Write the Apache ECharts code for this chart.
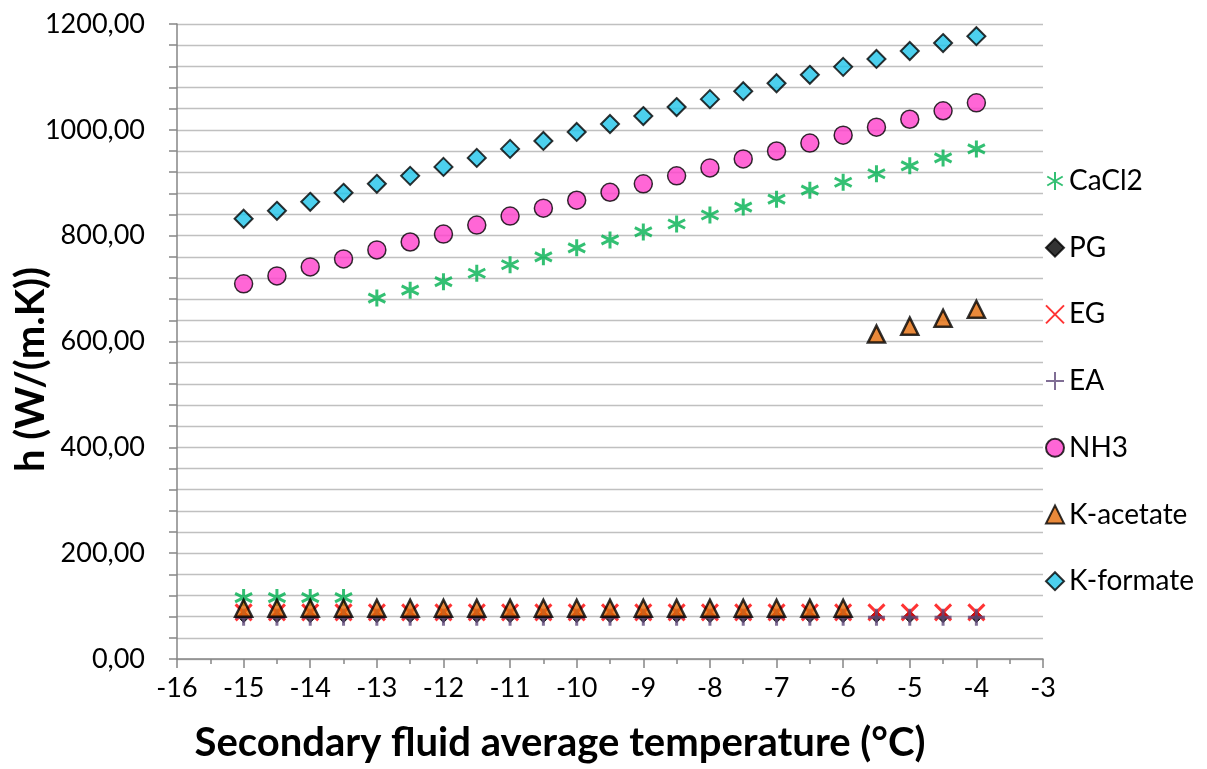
<!DOCTYPE html>
<html>
<head>
<meta charset="utf-8">
<script src="https://cdn.jsdelivr.net/npm/echarts@6/dist/echarts.min.js"></script>
<style>
  html, body { margin: 0; padding: 0; background: #fff; }
  #chart { width: 1207px; height: 769px; }
</style>
</head>
<body>
<div id="chart"></div>
<script>
// temperatures (°C)
const temps = [-15, -14.5, -14, -13.5, -13, -12.5, -12, -11.5, -11, -10.5, -10, -9.5,
               -9, -8.5, -8, -7.5, -7, -6.5, -6, -5.5, -5, -4.5, -4];

// h values, W/(m.K)
const cacl2 = [116, 116, 116, 116, 682, 697, 713, 729, 745, 760, 777, 792,
               807, 822, 839, 854, 869, 886, 901, 917, 932, 947, 964];
const pg = [80, 80, 80, 80, 80, 80, 80, 80, 80, 80, 80, 80,
            80, 80, 80, 80, 80, 80, 80, 80, 80, 80, 80];
const eg = [88, 88, 88, 88, 88, 88, 88, 88, 88, 88, 88, 88,
            88, 88, 88, 88, 88, 88, 88, 88, 88, 88, 88];
const ea = [79, 79, 79, 79, 79, 79, 79, 79, 79, 79, 79, 79,
            79, 79, 79, 79, 79, 79, 79, 79, 79, 79, 79];
const nh3 = [709, 724, 741, 756, 773, 788, 803, 820, 837, 852, 867, 882,
             898, 913, 928, 945, 960, 975, 990, 1005, 1020, 1036, 1051];
const kacetate = [96, 96, 96, 96, 96, 96, 96, 96, 96, 96, 96, 96,
                  96, 96, 96, 96, 96, 96, 96, 614, 629, 644, 661];
const kformate = [832, 847, 864, 881, 898, 913, 930, 947, 964, 979, 996, 1011,
                  1026, 1043, 1058, 1073, 1088, 1104, 1119, 1134, 1149, 1164, 1177];

const seriesNames = ['CaCl2', 'PG', 'EG', 'EA', 'NH3', 'K-acetate', 'K-formate'];

function pairs(vals) {
  return temps.map(function (t, i) { return [t, vals[i]]; });
}

const chart = echarts.init(document.getElementById('chart'));

const font = 'Lato, "Open Sans", sans-serif';

chart.setOption({
  animation: false,
  textStyle: { fontFamily: font },
  grid: { left: 177, right: 164, top: 24, bottom: 110, outerBoundsMode: 'none', containLabel: false },
  legend: {
    orient: 'vertical',
    left: 1040,
    top: 162,
    itemWidth: 18,
    itemHeight: 18,
    itemGap: 38.7,
    textStyle: { fontSize: 28, color: '#000', fontFamily: font },
    data: seriesNames
  },
  xAxis: {
    type: 'value',
    min: -16,
    max: -3,
    interval: 1,
    name: 'Secondary fluid average temperature (°C)',
    nameLocation: 'middle',
    nameGap: 64,
    nameMoveOverlap: false,
    nameTextStyle: { fontSize: 40, fontWeight: 'bold', color: '#000', padding: [0, 100, 0, 0] },
    axisLine: { onZero: false, lineStyle: { color: '#868686', width: 1.5 } },
    axisTick: { length: 9, lineStyle: { color: '#868686', width: 1.5 } },
    minorTick: { show: true, splitNumber: 2, length: 5, lineStyle: { color: '#868686', width: 1.5 } },
    axisLabel: { fontSize: 27, color: '#000', margin: 16 },
    splitLine: { show: false }
  },
  yAxis: {
    type: 'value',
    min: 0,
    max: 1200,
    interval: 40,
    name: 'h (W/(m.K))',
    nameLocation: 'middle',
    nameGap: 126,
    nameMoveOverlap: false,
    nameTextStyle: { fontSize: 40, fontWeight: 'bold', color: '#000', padding: [0, 56, 0, 0] },
    axisLine: { show: true, lineStyle: { color: '#868686', width: 1.5 } },
    axisTick: { show: true, length: 8, lineStyle: { color: '#868686', width: 1.5 } },
    axisLabel: {
      fontSize: 27, color: '#000', margin: 32,
      formatter: function (v) { return v % 200 === 0 ? v.toFixed(2).replace('.', ',') : ''; }
    },
    splitLine: { show: true, lineStyle: { color: '#C0C0C0', width: 1.3 } }
  },
  series: [
    {
      name: 'CaCl2', type: 'scatter', data: pairs(cacl2),
      symbol: 'path://M5,0L5,10M0.7,2.5L9.3,7.5M0.7,7.5L9.3,2.5', symbolSize: 17,
      itemStyle: { color: '#00B050', borderColor: '#00B050', borderWidth: 3 }
    },
    {
      name: 'PG', type: 'scatter', data: pairs(pg),
      symbol: 'diamond', symbolSize: 12,
      itemStyle: { color: '#000', borderColor: '#000', borderWidth: 1 }
    },
    {
      name: 'EG', type: 'scatter', data: pairs(eg),
      symbol: 'path://M0,0L10,10M0,10L10,0', symbolSize: 16,
      itemStyle: { color: '#FF0000', borderColor: '#FF0000', borderWidth: 3 }
    },
    {
      name: 'EA', type: 'scatter', data: pairs(ea),
      symbol: 'path://M5,0L5,10M0,5L10,5', symbolSize: 17,
      itemStyle: { color: '#604A7B', borderColor: '#604A7B', borderWidth: 3 }
    },
    {
      name: 'NH3', type: 'scatter', data: pairs(nh3),
      symbol: 'circle', symbolSize: 18,
      itemStyle: { color: '#FF40CC', borderColor: '#000', borderWidth: 1.5 }
    },
    {
      name: 'K-acetate', type: 'scatter', data: pairs(kacetate),
      symbol: 'triangle', symbolSize: 17,
      itemStyle: { color: '#E36C09', borderColor: '#000', borderWidth: 2.5 }
    },
    {
      name: 'K-formate', type: 'scatter', data: pairs(kformate),
      symbol: 'diamond', symbolSize: 18,
      itemStyle: { color: '#1FC4EA', borderColor: '#000', borderWidth: 2 }
    }
  ]
});
</script>
</body>
</html>
